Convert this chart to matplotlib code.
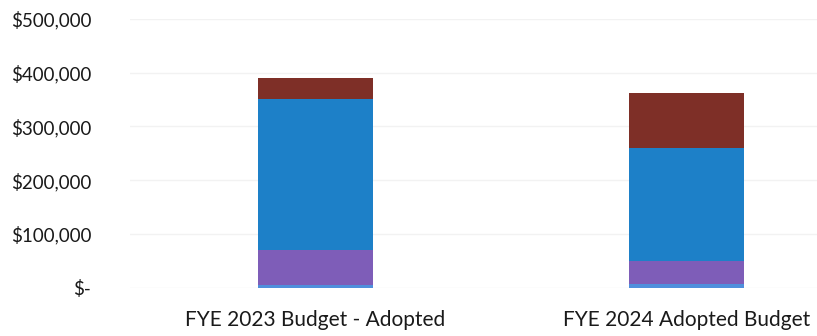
import numpy as np
import matplotlib.pyplot as plt
from matplotlib.ticker import FuncFormatter

categories = ["FYE 2023 Budget - Adopted", "FYE 2024 Adopted Budget"]

# stacked components, bottom to top
seg_light_blue = [5000, 6000]
seg_purple = [64000, 44000]
seg_blue = [282000, 209000]
seg_brown = [39000, 103000]

colors = ["#4f8fdc", "#7e5db8", "#1d80c8", "#7e2f27"]


def money(v, _pos):
    if v == 0:
        return "$-"
    return f"${v:,.0f}"


def draw_chart():
    plt.rcParams["font.family"] = ["Lato", "DejaVu Sans"]

    fig = plt.figure(figsize=(8.17, 3.36), dpi=100)
    ax = fig.add_axes([130 / 817, 48.5 / 336, 742 / 817, 268.5 / 336])

    x = np.arange(len(categories))
    width = 0.31
    bottom = np.zeros(len(categories))
    for vals, col in zip([seg_light_blue, seg_purple, seg_blue, seg_brown], colors):
        ax.bar(x, vals, width, bottom=bottom, color=col, linewidth=0)
        bottom += np.array(vals)

    ax.set_xlim(-0.5, 1.5)
    ax.set_ylim(0, 500000)
    ax.set_yticks(np.arange(0, 500001, 100000))
    ax.yaxis.set_major_formatter(FuncFormatter(money))
    ax.set_xticks(x)
    ax.set_xticklabels(categories)

    ax.grid(axis="y", color="#f2f2f2", linewidth=1)
    ax.set_axisbelow(True)
    for s in ax.spines.values():
        s.set_visible(False)
    ax.tick_params(axis="both", length=0, colors="#1a1a1a")
    ax.tick_params(axis="y", pad=28, labelsize=13.5)
    ax.tick_params(axis="x", pad=16, labelsize=15)

    plt.savefig("out.png", dpi=100)


if __name__ == "__main__":
    draw_chart()
